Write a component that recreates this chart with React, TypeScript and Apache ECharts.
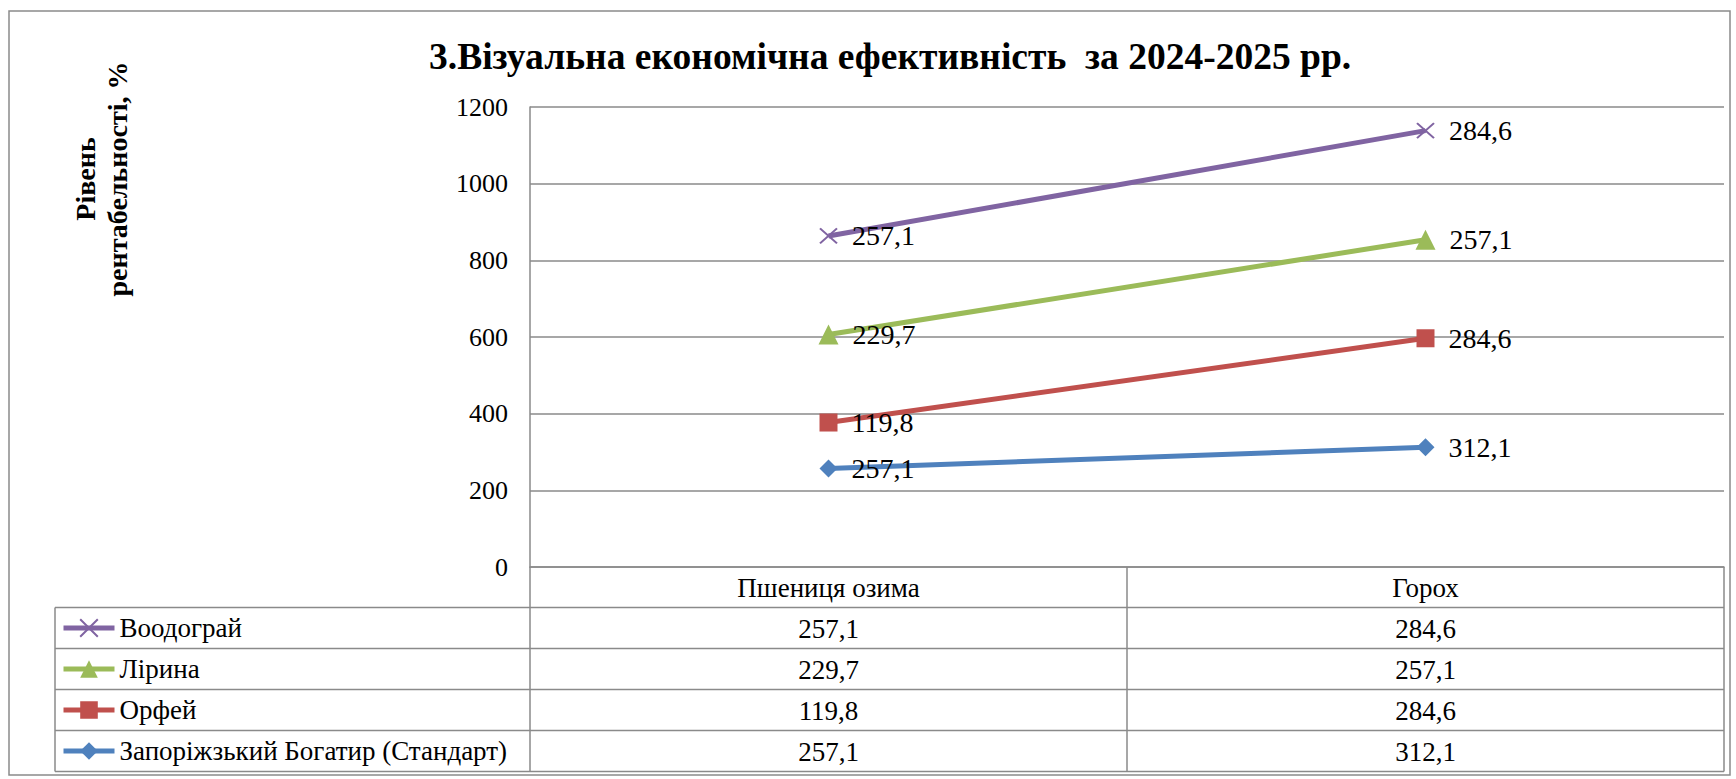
import React, { useEffect, useRef } from "react";
import * as echarts from "echarts";

const categories = ["Пшениця озима", "Горох"];
const zaporizhzkyi = [257.1, 312.1];
const orfei = [119.8, 284.6];
const lirina = [229.7, 257.1];
const voodohrai = [257.1, 284.6];
const seriesNames = ["Запоріжзький Богатир (Стандарт)", "Орфей", "Лірина", "Воодограй"];
const seriesValues = [zaporizhzkyi, orfei, lirina, voodohrai];
const seriesColors = ["#4F81BD", "#C0504D", "#9BBB59", "#8064A2"];
const seriesSymbols = ["diamond", "rect", "triangle", "path://M0,0L10,10M10,0L0,10"];
const yMin = 0;
const yMax = 1200;
const yStep = 200;

const FONT = "Liberation Serif";
const W = 1736;
const H = 779;
const gL = 530, gR = 1724, gT = 107, gB = 567;
const tableLeft = 55;
const headerBottom = 607.5;
const rowH = 41;
const GRID = "#8a8a8a";

const fmt = (v: number) => String(v).replace(".", ",");

export default function App() {
  const ref = useRef<HTMLDivElement>(null);
  useEffect(() => {
    document.body.style.margin = "0";
    const chart = echarts.init(ref.current!, undefined, { renderer: "svg" });
    const colW = (gR - gL) / categories.length;
    const tableOrder = [3, 2, 1, 0];
    const tableBottom = headerBottom + rowH * tableOrder.length;
    const graphics: any[] = [];
    graphics.push({ type: "rect", shape: { x: 9, y: 11, width: 1721, height: 764 }, style: { fill: "none", stroke: GRID, lineWidth: 1.5 } });
    graphics.push({
      type: "text", x: 101, y: 179, rotation: Math.PI / 2,
      style: { text: "Рівень\nрентабельності, %", fontFamily: FONT, fontSize: 28, fontWeight: "bold", fill: "#000", align: "center", verticalAlign: "middle", lineHeight: 32 },
    });
    const line = (x1: number, y1: number, x2: number, y2: number) => graphics.push({ type: "line", shape: { x1, y1, x2, y2 }, style: { stroke: GRID, lineWidth: 1.5 } });
    line(gL, gB, gL, tableBottom);
    for (let i = 1; i <= categories.length; i++) line(gL + colW * i, gB, gL + colW * i, tableBottom);
    line(tableLeft, headerBottom, tableLeft, tableBottom);
    for (let r = 0; r <= tableOrder.length; r++) line(tableLeft, headerBottom + r * rowH, gR, headerBottom + r * rowH);
    categories.forEach((c, i) => {
      graphics.push({ type: "text", x: gL + colW * (i + 0.5), y: (gB + headerBottom) / 2 + 1, style: { text: c, fontFamily: FONT, fontSize: 27, fill: "#000", align: "center", verticalAlign: "middle" } });
    });
    tableOrder.forEach((si, r) => {
      seriesValues[si].forEach((v, i) => {
        graphics.push({ type: "text", x: gL + colW * (i + 0.5), y: headerBottom + rowH * (r + 0.5) + 1, style: { text: fmt(v), fontFamily: FONT, fontSize: 27, fill: "#000", align: "center", verticalAlign: "middle" } });
      });
    });

    chart.setOption({
      animation: false,
      textStyle: { fontFamily: FONT },
      title: {
        text: "3.Візуальна економічна ефективність  за 2024-2025 рр.",
        left: 424, top: 32,
        textStyle: { fontFamily: FONT, fontSize: 37.5, fontWeight: "bold", color: "#000" },
      },
      legend: {
        data: tableOrder.map((i) => seriesNames[i]),
        orient: "vertical", left: 61, top: headerBottom, itemGap: 0, padding: 0,
        itemWidth: 51, itemHeight: 22,
        lineStyle: { width: 5 },
        textStyle: { fontFamily: FONT, fontSize: 27, color: "#000", lineHeight: rowH },
        selectedMode: false,
      },
      grid: { left: gL, right: W - gR, top: gT, bottom: H - gB, containLabel: false },
      xAxis: {
        type: "category", data: categories, boundaryGap: true,
        axisLabel: { show: false }, axisTick: { show: false },
        axisLine: { show: true, lineStyle: { color: GRID, width: 1.5 } },
      },
      yAxis: {
        type: "value", min: yMin, max: yMax, interval: yStep,
        axisLabel: { fontFamily: FONT, fontSize: 26, color: "#000", margin: 22, formatter: (v: number) => String(v) },
        axisTick: { show: false },
        axisLine: { show: true, lineStyle: { color: GRID, width: 1.5 } },
        splitLine: { lineStyle: { color: GRID, width: 1.5 } },
      },
      graphic: graphics,
      series: seriesNames.map((name, i) => ({
        name, type: "line", stack: "total", data: seriesValues[i],
        color: seriesColors[i],
        symbol: seriesSymbols[i],
        symbolSize: i === 3 ? [17, 15] : i === 2 ? 20 : 18,
        lineStyle: { color: seriesColors[i], width: 5 },
        itemStyle: { color: seriesColors[i], borderColor: seriesColors[i], borderWidth: i === 3 ? 2 : 0 },
        label: {
          show: true, position: "right", distance: 14,
          formatter: (p: any) => fmt(p.value),
          fontFamily: FONT, fontSize: 28, color: "#000",
        },
      })),
    });
    return () => chart.dispose();
  }, []);
  return <div ref={ref} style={{ width: W, height: H }} />;
}
